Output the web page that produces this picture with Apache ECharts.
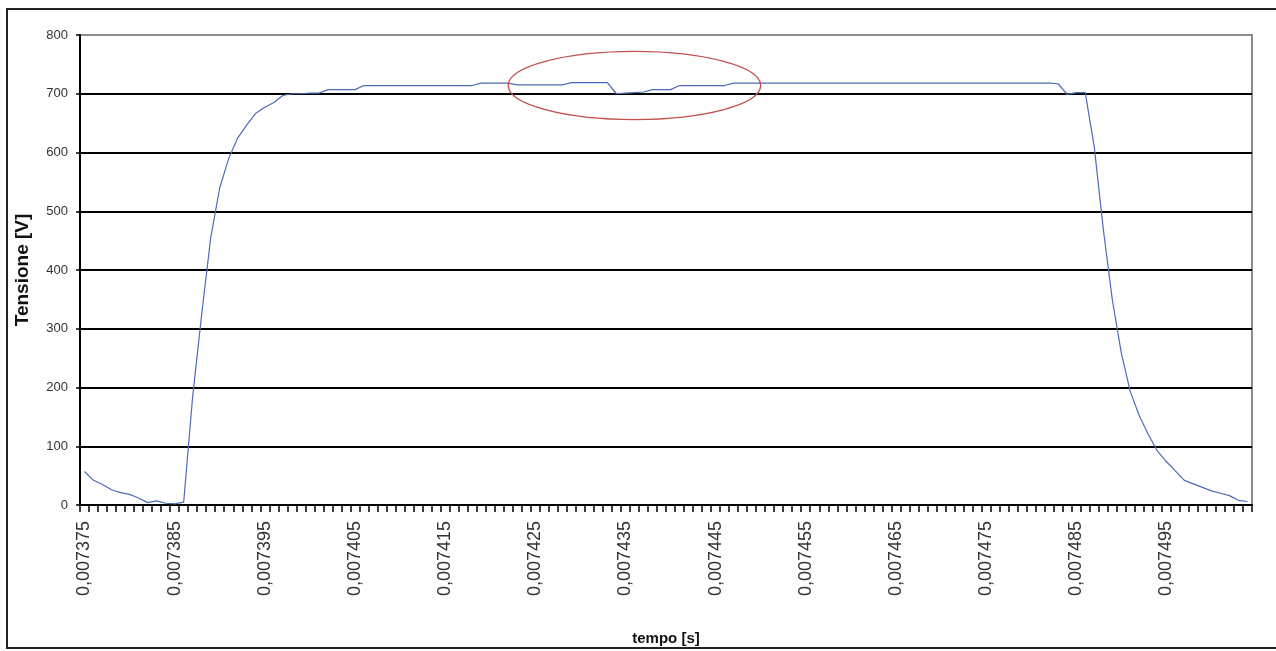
<!DOCTYPE html>
<html>
<head>
<meta charset="utf-8">
<title>Tensione</title>
<script src="https://cdn.jsdelivr.net/npm/echarts@6/dist/echarts.min.js"></script>
<style>
  html, body { margin: 0; padding: 0; background: #fff; }
  #chart { width: 1276px; height: 651px; }
</style>
</head>
<body>
<div id="chart"></div>
<script>
// Sample times: one sample every microsecond, starting at 0,007375 s
const sampleStartMicro = 7375;
const sampleCount = 130;
const categories = [];
for (let i = 0; i < sampleCount; i++) {
  categories.push('0,00' + (sampleStartMicro + i));
}

// Measured voltage [V], one value per sample
const tensione = [
  57, 42, 35, 26, 21, 18, 12, 4, 7, 3, 2, 5,
  185, 325, 455, 540, 590, 625, 647, 667, 677, 685, 697, 700, 700,
  701, 701, 707, 707, 707, 707,
  714, 714, 714, 714, 714, 714, 714, 714, 714, 714, 714, 714, 714,
  718, 718, 718, 718,
  715, 715, 715, 715, 715, 715,
  719, 719, 719, 719, 719,
  700, 701, 702, 703, 707, 707, 707,
  714, 714, 714, 714, 714, 714,
  718, 718, 718, 718, 718, 718, 718, 718, 718, 718, 718, 718,
  718, 718, 718, 718, 718, 718, 718, 718, 718, 718, 718, 718,
  718, 718, 718, 718, 718, 718, 718, 718, 718, 718, 718, 718,
  717, 699, 702, 702,
  610, 470, 350, 259, 193, 152, 120, 92, 74, 58, 42, 36, 30, 24, 20, 16, 8, 6
];

// Y axis range
const yMin = 0;
const yMax = 800;
const yStep = 100;

// Highlighted dip on the plateau (sample index, voltage, half-widths)
const highlight = { index: 61, value: 714, halfSamples: 14, halfVolts: 58 };

const FONT = 'Liberation Sans, Arial, sans-serif';

const chart = echarts.init(document.getElementById('chart'), null, { renderer: 'canvas' });

chart.setOption({
  animation: false,
  backgroundColor: '#ffffff',
  grid: {
    left: 80, right: 24, top: 35, bottom: 146,
    show: true,
    borderColor: '#8c8c8c',
    borderWidth: 2,
    backgroundColor: 'transparent'
  },
  xAxis: {
    type: 'category',
    data: categories,
    boundaryGap: true,
    name: 'tempo [s]',
    nameLocation: 'middle',
    nameGap: 126,
    nameTextStyle: { fontFamily: FONT, fontSize: 15, fontWeight: 'bold', color: '#111' },
    axisLine: { show: true, lineStyle: { color: '#000', width: 2 } },
    axisTick: { show: true, interval: 0, length: 7, lineStyle: { color: '#000', width: 1.5 } },
    axisLabel: {
      interval: 9,
      rotate: 90,
      margin: 16,
      fontFamily: FONT,
      fontSize: 18,
      color: '#333'
    },
    splitLine: { show: false }
  },
  yAxis: {
    type: 'value',
    min: yMin,
    max: yMax,
    interval: yStep,
    name: 'Tensione [V]',
    nameLocation: 'middle',
    nameRotate: 90,
    nameGap: 48,
    nameTextStyle: { fontFamily: FONT, fontSize: 19, fontWeight: 'bold', color: '#111' },
    axisLine: { show: true, lineStyle: { color: '#000', width: 2 } },
    axisTick: { show: true, length: 4, lineStyle: { color: '#000', width: 1.5 } },
    axisLabel: { margin: 12, fontFamily: FONT, fontSize: 13, color: '#333' },
    splitLine: {
      show: true,
      showMinLine: false,
      showMaxLine: false,
      lineStyle: { color: '#000', width: 2 }
    }
  },
  series: [{
    type: 'line',
    data: tensione,
    symbol: 'none',
    smooth: false,
    lineStyle: { color: '#4e6bb8', width: 1.2 },
    z: 3
  }]
});

// Red ellipse around the plateau dip, placed in data coordinates
const c = chart.convertToPixel({ xAxisIndex: 0, yAxisIndex: 0 }, [highlight.index, highlight.value]);
const e = chart.convertToPixel({ xAxisIndex: 0, yAxisIndex: 0 },
  [highlight.index + highlight.halfSamples, highlight.value + highlight.halfVolts]);

chart.setOption({
  graphic: [
    {
      type: 'ellipse',
      shape: { cx: c[0], cy: c[1], rx: Math.abs(e[0] - c[0]), ry: Math.abs(c[1] - e[1]) },
      style: { fill: 'none', stroke: '#c0504d', lineWidth: 1.3 },
      z: 10
    },
    {
      type: 'rect',
      shape: { x: 7, y: 9, width: 1275, height: 639 },
      style: { fill: 'none', stroke: '#222', lineWidth: 2 },
      z: 10
    }
  ]
});
</script>
</body>
</html>
